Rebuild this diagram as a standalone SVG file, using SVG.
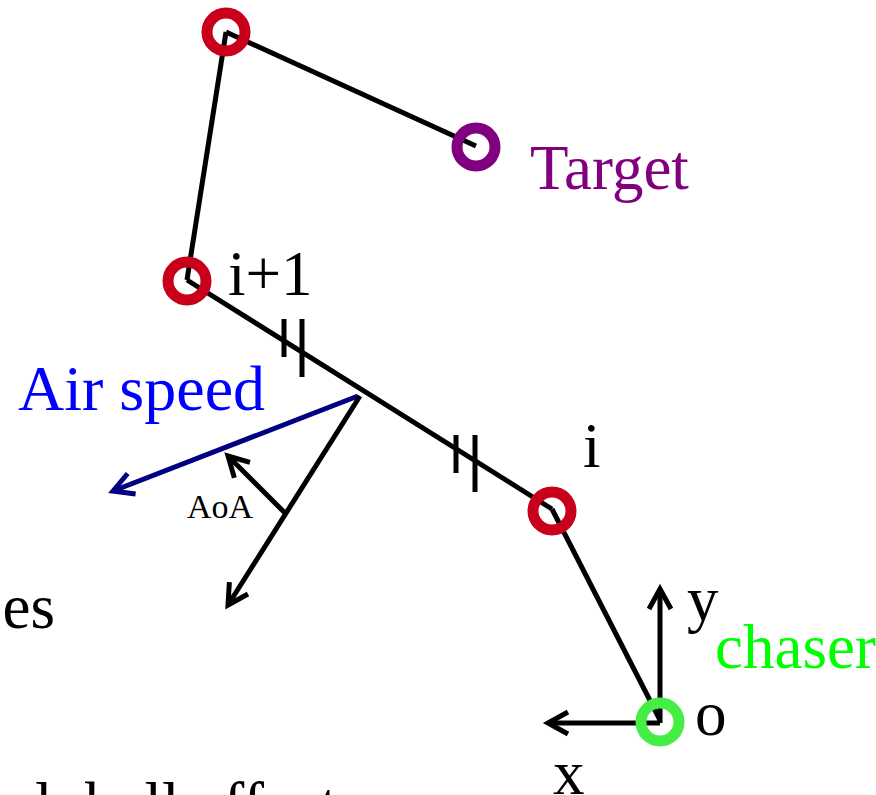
<svg xmlns="http://www.w3.org/2000/svg" width="876" height="795" viewBox="0 0 876 795">
<style>
text{font-family:"Liberation Serif","Times New Roman",serif;font-size:63px;fill:#000}
.ln{stroke:#000;stroke-width:5;fill:none;stroke-linecap:butt}
.ring{fill:none;stroke-width:11}
.red{stroke:#c8001a}
</style>
<defs>
<marker id="ah" markerUnits="userSpaceOnUse" markerWidth="30" markerHeight="30" viewBox="-24 -15 30 30" refX="0" refY="0" orient="auto" overflow="visible">
<path d="M-20,-11 L0,0 L-20,11" fill="none" stroke="#000" stroke-width="5" stroke-linejoin="miter"/>
</marker>
<marker id="ahb" markerUnits="userSpaceOnUse" markerWidth="30" markerHeight="30" viewBox="-24 -15 30 30" refX="0" refY="0" orient="auto" overflow="visible">
<path d="M-20,-11 L0,0 L-20,11" fill="none" stroke="#000080" stroke-width="5"/>
</marker>
</defs>
<rect width="876" height="795" fill="#fff"/>
<g id="connectors">
<line class="ln" x1="226" y1="32" x2="476" y2="146"/>
<line class="ln" x1="226" y1="32" x2="187" y2="280"/>
<line class="ln" x1="187" y1="280" x2="552" y2="509"/>
<line class="ln" x1="552" y1="509" x2="660" y2="720"/>
<line class="ln" x1="284" y1="319" x2="284" y2="357"/>
<line class="ln" x1="302" y1="319" x2="302" y2="377"/>
<line class="ln" x1="456" y1="435" x2="456" y2="473"/>
<line class="ln" x1="475" y1="435" x2="475" y2="492"/>
<line x1="358" y1="396" x2="113" y2="491" stroke="#000080" stroke-width="5" marker-end="url(#ahb)"/>
<line class="ln" x1="360" y1="396" x2="228" y2="605" marker-end="url(#ah)"/>
<line class="ln" x1="285" y1="513" x2="228" y2="456" marker-end="url(#ah)"/>
<line class="ln" x1="660" y1="723" x2="660" y2="589" marker-end="url(#ah)"/>
<line class="ln" x1="660" y1="723" x2="548" y2="723" marker-end="url(#ah)"/>
</g>
<g id="node-top"><circle class="ring red" cx="226" cy="32" r="19"/></g>
<g id="node-target"><circle class="ring" cx="476" cy="147" r="19" stroke="#800080"/><text x="530" y="189" style="fill:#800080">Target</text></g>
<g id="node-i1"><circle class="ring red" cx="187" cy="281" r="19"/><text x="228" y="295">i+1</text></g>
<g id="node-i"><circle class="ring red" cx="552" cy="511" r="19"/><text x="583" y="467">i</text></g>
<g id="node-chaser"><circle class="ring" cx="660" cy="722" r="19" stroke="#44ee44"/><text x="695" y="735">o</text><text x="715" y="668" style="fill:#00ff00">chaser</text></g>
<g id="labels">
<text x="18" y="410" style="fill:#0000ff;font-size:64px">Air speed</text>
<text x="187" y="518" style="font-size:34px">AoA</text>
<text x="55" y="628" text-anchor="end">es</text>
<text x="687" y="620">y</text>
<text x="553" y="794">x</text>
<text x="7" y="826">al<tspan x="85">ball effect</tspan></text>
</g>
</svg>
